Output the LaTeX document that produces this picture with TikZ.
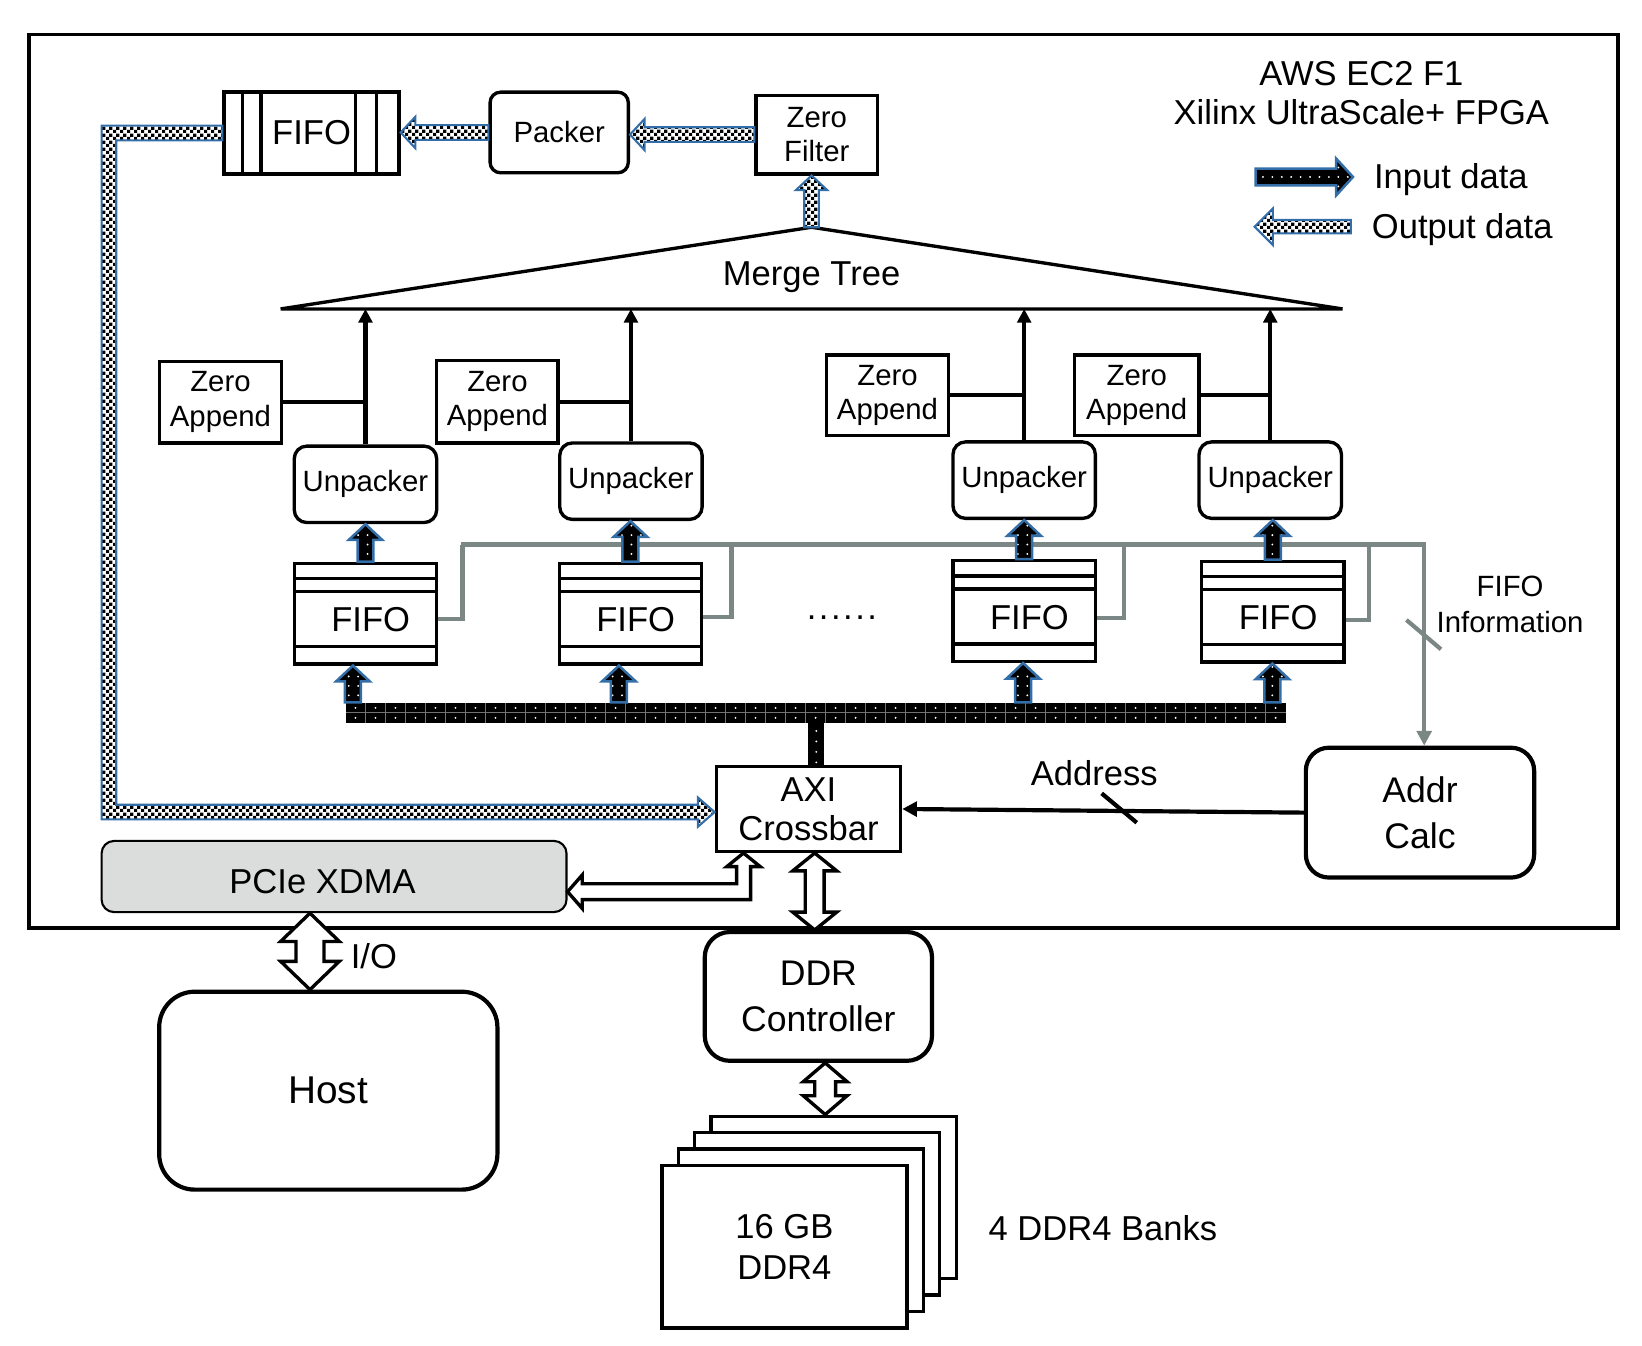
\documentclass[tikz,border=0pt]{standalone}
\usepackage{fontspec}
\setmainfont{Liberation Sans}
\usetikzlibrary{arrows.meta,patterns,patterns.meta,calc}
\definecolor{blueo}{RGB}{52,110,168}
\definecolor{grayl}{RGB}{122,135,132}
\definecolor{pcief}{RGB}{218,221,220}
\pgfdeclarepatternformonly{finecheck}{\pgfqpoint{0pt}{0pt}}{\pgfqpoint{3.4pt}{3.4pt}}{\pgfqpoint{3.4pt}{3.4pt}}{%
  \pgfpathrectangle{\pgfqpoint{0pt}{0pt}}{\pgfqpoint{1.7pt}{1.7pt}}%
  \pgfpathrectangle{\pgfqpoint{1.7pt}{1.7pt}}{\pgfqpoint{1.7pt}{1.7pt}}%
  \pgfusepath{fill}}
% fat arrows: #1 tail, #2 tip, #3 half shaft, #4 half head, #5 head length, #6 style
\newcommand\fatup[6]{%
  \path[#6] let \p1=(#1), \p2=(#2) in
    (\x1-#3,\y1) -- (\x1-#3,\y2-#5) -- (\x1-#4,\y2-#5) -- (\x1,\y2)
    -- (\x1+#4,\y2-#5) -- (\x1+#3,\y2-#5) -- (\x1+#3,\y1) -- cycle;}
\newcommand\fatleft[6]{%
  \path[#6] let \p1=(#1), \p2=(#2) in
    (\x1,\y1+#3) -- (\x2+#5,\y1+#3) -- (\x2+#5,\y1+#4) -- (\x2,\y1)
    -- (\x2+#5,\y1-#4) -- (\x2+#5,\y1-#3) -- (\x1,\y1-#3) -- cycle;}
\newcommand\fatright[6]{%
  \path[#6] let \p1=(#1), \p2=(#2) in
    (\x1,\y1+#3) -- (\x2-#5,\y1+#3) -- (\x2-#5,\y1+#4) -- (\x2,\y1)
    -- (\x2-#5,\y1-#4) -- (\x2-#5,\y1-#3) -- (\x1,\y1-#3) -- cycle;}
% double headed vertical: #1 top tip, #2 bottom tip
\newcommand\fatboth[6]{%
  \path[#6] let \p1=(#1), \p2=(#2) in
    (\x1,\y1) -- (\x1+#4,\y1-#5) -- (\x1+#3,\y1-#5) -- (\x1+#3,\y2+#5)
    -- (\x1+#4,\y2+#5) -- (\x1,\y2) -- (\x1-#4,\y2+#5) -- (\x1-#3,\y2+#5)
    -- (\x1-#3,\y1-#5) -- (\x1-#4,\y1-#5) -- cycle;}
\begin{document}
\begin{tikzpicture}[x=0.5pt,y=-0.5pt,
  box/.style={draw, line width=1.6pt, inner sep=0pt, align=center},
  rbox/.style={box, rounded corners=6pt},
  txt/.style={font=\fontsize{16.5}{19}\selectfont, align=center},
  stxt/.style={font=\fontsize{14}{16.5}\selectfont, align=center},
  conn/.style={draw, line width=2pt},
  gline/.style={draw=grayl, line width=2pt},
  outarrow/.style={draw=blueo, line width=1pt, preaction={fill=white}, pattern=finecheck, pattern color=black},
  inarrow/.style={draw=blueo, line width=1.2pt, preaction={fill=black}, pattern={Dots[distance=4.5pt,radius=0.5pt]}, pattern color=white},
  hollow/.style={draw, line width=1.6pt, fill=white, line join=miter},
  tip/.style={-{Triangle[length=6.5pt,width=6.5pt]}}
]
\useasboundingbox (0,0) rectangle (1568,1285);
\draw[line width=1.8pt] (28,33) rectangle (1545,886);

% title and legend
\node[txt] (title) at (1300,89) {AWS EC2 F1\\Xilinx UltraScale+ FPGA};
\fatright{1199,169}{1292,169}{4pt}{8.75pt}{8pt}{inarrow}
\fatleft{1290,216.5}{1198,216.5}{3.2pt}{8.75pt}{8.75pt}{outarrow}
\node[txt, anchor=west] (lin) at (1305,171) {Input data};
\node[txt, anchor=west] (lout) at (1303,219) {Output data};

% top row
\node[box, txt, minimum width=83.5pt, minimum height=39pt] (tfifo) at (297.5,127) {FIFO};
\foreach \d in {19,37,127,147}
  \draw[line width=1.6pt] ($(tfifo.north west)+(\d,0)$) -- ($(tfifo.south west)+(\d,0)$);
\node[rbox, stxt, rounded corners=5pt, minimum width=66pt, minimum height=38.5pt] (packer) at (534,126.5) {Packer};
\node[box, stxt, minimum width=58pt, minimum height=37.5pt] (zf) at (780,128.5) {Zero\\Filter};

% merge tree
\coordinate (apex) at (775,217);
\coordinate (mtl) at (268,295);
\coordinate (mtr) at (1282,295);
\draw[line width=1.6pt, line join=miter] (mtl) -- (apex) -- (mtr) -- cycle;
\node[txt] (mtxt) at (775,265) {Merge Tree};

% unpackers and zero append
\node[rbox, stxt, minimum width=68pt, minimum height=36.5pt] (u1) at (349,462.5) {Unpacker};
\node[rbox, stxt, minimum width=68pt, minimum height=36.5pt] (u2) at (602.5,459.5) {Unpacker};
\node[rbox, stxt, minimum width=68pt, minimum height=36.5pt] (u3) at (978,458.5) {Unpacker};
\node[rbox, stxt, minimum width=68pt, minimum height=36.5pt] (u4) at (1213,458.5) {Unpacker};
\node[box, stxt, minimum width=58.5pt, minimum height=39pt] (za1) at (210.5,384) {Zero\\Append};
\node[box, stxt, minimum width=58pt, minimum height=39.5pt] (za2) at (475,383.5) {Zero\\Append};
\node[box, stxt, minimum width=58.5pt, minimum height=38.5pt] (za3) at (847.5,377.5) {Zero\\Append};
\node[box, stxt, minimum width=59.5pt, minimum height=38.5pt] (za4) at (1085.5,377.5) {Zero\\Append};
\foreach \u/\z in {u1/za1,u2/za2,u3/za3,u4/za4}{
  \draw[conn, tip] (\u.north) -- (\u.north |- mtl);
  \draw[conn] (\z.east) -- (\z.east -| \u.north);
}

% FIFOs
\foreach \n/\cx/\cy in {f1/349/586, f2/602/586, f3/978/583.5, f4/1215.5/584}{
  \node[box, minimum width=68pt, minimum height=48pt] (\n) at (\cx,\cy) {};
  \draw[line width=1.6pt] ($(\n.north west)+(0,16)$) -- ($(\n.north east)+(0,16)$);
  \draw[line width=1.6pt] ($(\n.north west)+(0,28.5)$) -- ($(\n.north east)+(0,28.5)$);
  \draw[line width=1.6pt] ($(\n.south west)+(0,-18)$) -- ($(\n.south east)+(0,-18)$);
  \node[txt] (\n-t) at ($(\n.center)+(5,6)$) {FIFO};
}
\node[txt] (dots) at (804,590) {.\kern1.2pt.\kern1.2pt.\kern1.2pt.\kern1.2pt.\kern1.2pt.};

% FIFO information lines
\coordinate (gL) at (440,520);
\coordinate (gR) at (1360,520);
\node[rbox, line width=2pt, rounded corners=11pt, minimum width=109pt, minimum height=62pt, font=\fontsize{17}{22}\selectfont] (addr) at (1356,776) {Addr\\Calc};
\foreach \n/\dx/\dy in {f1/23/5, f2/27/3, f3/26/6.5, f4/22/8}
  \draw[gline] ($(\n.east)+(0,\dy)$) -- ++(\dx,0) coordinate (tmp) -- (tmp |- gR);
\draw[gline, -{Triangle[length=7pt,width=7pt]}] (gL) -- (gR) -- (gR |- addr.north);
\draw[gline] (1343,592) -- (1376,620);
\node[font=\fontsize{14}{17.5}\selectfont, align=center] (finfo) at (1442,577) {FIFO\\Information};

% AXI crossbar
\node[box, font=\fontsize{16.5}{18.5}\selectfont, minimum width=88pt, minimum height=40.5pt] (axi) at (772,772.5) {AXI\\Crossbar};

% input bus
\node[fill=black, minimum width=449pt, minimum height=9.5pt, inner sep=0pt] (bus) at (779,680.5) {};
\fill[black] (axi.north) rectangle ($(axi.north |- bus.south)+(15,0)$);
\foreach \i in {1,...,46}
  \draw[black!55, line width=0.3pt] (330+\i*19.1,671) -- (330+\i*19.1,690);
\draw[black!55, line width=0.3pt] (330,680.5) -- (1228,680.5);
\foreach \i in {0,...,46}{
  \fill[white] (339.5+\i*19.1,676) circle (0.5pt);
  \fill[white] (339.5+\i*19.1,685.5) circle (0.5pt);
}
\foreach \yy in {698,708,718,728}
  \fill[white] (779.5,\yy) circle (0.5pt);

% input arrows
\coordinate (bx1) at (337,0);
\coordinate (bx2) at (591,0);
\coordinate (bx3) at (977,0);
\coordinate (bx4) at (1215,0);
\foreach \b/\f/\u in {bx1/f1/u1, bx2/f2/u2, bx3/f3/u3, bx4/f4/u4}{
  \fatup{\b |- bus.north}{\b |- \f.south}{3.8pt}{8pt}{7.5pt}{inarrow}
  \fatup{\f.north}{\f.north |- \u.south}{3.8pt}{8pt}{7.5pt}{inarrow}
}

% output arrows
\fatup{apex}{apex |- zf.south}{3.5pt}{7.5pt}{7pt}{outarrow}
\fatleft{zf.west}{packer.east}{3.5pt}{7.5pt}{7pt}{outarrow}
\fatleft{packer.west}{tfifo.east}{3.5pt}{7.5pt}{7pt}{outarrow}
\path[outarrow] let \p1=(tfifo.west), \p2=(axi.west) in
  (\x1,\y1+3.5pt) -- (48.5pt,\y1+3.5pt) -- (48.5pt,\y2-1.5pt-3.5pt)
  -- (\x2-8pt,\y2-1.5pt-3.5pt) -- (\x2-8pt,\y2-1.5pt-7pt) -- (\x2,\y2-1.5pt)
  -- (\x2-8pt,\y2-1.5pt+7pt) -- (\x2-8pt,\y2-1.5pt+3.5pt) -- (55.5pt,\y2-1.5pt+3.5pt)
  -- (55.5pt,\y1-3.5pt) -- (\x1,\y1-3.5pt) -- cycle;

% address
\draw[conn, -{Triangle[length=7pt,width=7pt]}] (addr.west) -- (axi.east);
\node[txt] (addrl) at (1045,738) {Address};
\draw[conn] (1052,757.6) -- (1085.5,785.6);

% PCIe
\node[draw, line width=1pt, fill=pcief, rounded corners=6pt, minimum width=222pt, minimum height=34pt, inner sep=0pt] (pcie) at (319,837) {};
\node[txt] (pciet) at (308,842) {PCIe XDMA};
\coordinate (bend) at (0,851.5);
\path[hollow] let \p1=(pcie.east), \p2=(axi.south), \p3=(bend) in
  (\x1,\y3) -- (\x1+7pt,\y3+8pt) -- (\x1+7pt,\y3+3.8pt) -- (\x2-31pt-3.3pt,\y3+3.8pt)
  -- (\x2-31pt-3.3pt,\y2-6.5pt) -- (\x2-31pt-8pt,\y2-6.5pt) -- (\x2-31pt,\y2)
  -- (\x2-31pt+8pt,\y2-6.5pt) -- (\x2-31pt+3.4pt,\y2-6.5pt) -- (\x2-31pt+3.4pt,\y3-3.8pt)
  -- (\x1+7pt,\y3-3.8pt) -- (\x1+7pt,\y3-8pt) -- cycle;

% lower blocks
\node[rbox, line width=2pt, rounded corners=17pt, minimum width=161.5pt, minimum height=94.5pt, font=\fontsize{18.5}{22}\selectfont] (host) at (313.5,1041.5) {Host};
\node[rbox, line width=2pt, rounded corners=12pt, minimum width=108.5pt, minimum height=61.5pt, font=\fontsize{17}{21.5}\selectfont] (ddrc) at (781.5,951.5) {DDR\\Controller};
\foreach \k in {3,2,1}
  \node[box, fill=white, minimum width=117pt, minimum height=77.5pt] (bank\k) at (749+15.7*\k,1190.5-15.7*\k) {};
\node[box, fill=white, minimum width=117pt, minimum height=77.5pt, font=\fontsize{16.5}{19.5}\selectfont] (bank0) at (749,1190.5) {16 GB\\DDR4};
\node[txt, anchor=west] (bankl) at (937,1173) {4 DDR4 Banks};

% double arrows
\coordinate (xio) at (296,0);
\coordinate (xad) at (778,0);
\coordinate (xdb) at (788,0);
\fatboth{xio |- pcie.south}{xio |- host.north}{6.7pt}{14pt}{13.5pt}{hollow}
\node[txt] (io) at (357,913) {I/O};
\fatboth{xad |- axi.south}{xad |- ddrc.north}{4.5pt}{10.5pt}{8.5pt}{hollow}
\fatboth{xdb |- ddrc.south}{xdb |- bank3.north}{5pt}{10.5pt}{9pt}{hollow}
\end{tikzpicture}
\end{document}
